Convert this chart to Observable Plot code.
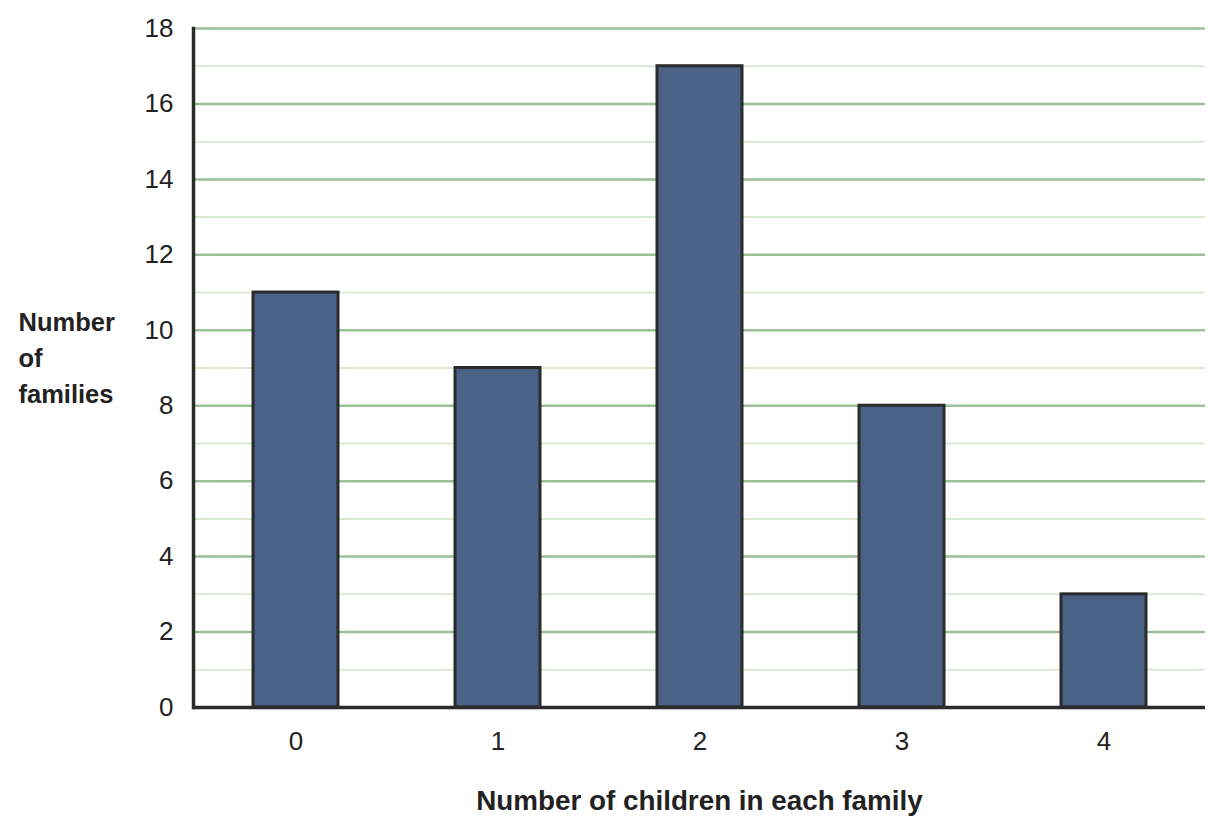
<!DOCTYPE html>
<html>
<head>
<meta charset="utf-8">
<script src="https://cdn.jsdelivr.net/npm/d3@7"></script>
<script src="https://cdn.jsdelivr.net/npm/@observablehq/plot@0.6"></script>
<style>
  html, body { margin: 0; padding: 0; background: #fff; }
  #chart { width: 1224px; height: 835px; }
</style>
</head>
<body>
<div id="chart"></div>
<script>
const children = ["0", "1", "2", "3", "4"];
const families = [11, 9, 17, 8, 3];
const majorTicks = [0, 2, 4, 6, 8, 10, 12, 14, 16, 18];
const minorTicks = [1, 3, 5, 7, 9, 11, 13, 15, 17];
const yLabel = "Number\nof\nfamilies";
const xLabel = "Number of children in each family";

const data = children.map((c, i) => ({children: c, families: families[i]}));

const chart = Plot.plot({
  width: 1224,
  height: 835,
  marginLeft: 193,
  marginRight: 19,
  marginTop: 28,
  marginBottom: 128,
  style: {fontFamily: "'Liberation Sans', Arial, sans-serif", fontSize: "26px", color: "#222", background: "#fff"},
  x: {domain: children, paddingInner: 0.58, paddingOuter: 0.29, label: null},
  y: {domain: [0, 18], label: null},
  marks: [
    Plot.ruleY(minorTicks, {stroke: "#dbe9d2", strokeWidth: 2}),
    Plot.ruleY(majorTicks, {stroke: "#9dbf9a", strokeWidth: 2.5}),
    Plot.barY(data, {x: "children", y: "families", fill: "#4a6285", stroke: "#2b2b2b", strokeWidth: 3}),
    Plot.ruleY([0], {stroke: "#2b2b2b", strokeWidth: 3.5}),
    Plot.frame({anchor: "left", stroke: "#2b2b2b", strokeWidth: 3.5}),
    Plot.axisY({ticks: majorTicks, tickSize: 0, tickPadding: 20, fontSize: 26, label: null}),
    Plot.axisX({tickSize: 0, tickPadding: 24, fontSize: 26, label: null}),
    Plot.text([yLabel], {frameAnchor: "left", dx: -175, dy: -12.5, textAnchor: "start", lineAnchor: "middle", fontWeight: "bold", fontSize: 25.5, lineHeight: 1.41, fill: "#222"}),
    Plot.text([xLabel], {frameAnchor: "bottom", dy: 94, lineAnchor: "middle", fontWeight: "bold", fontSize: 27.8, fill: "#222"})
  ]
});
document.getElementById("chart").appendChild(chart);
</script>
</body>
</html>
